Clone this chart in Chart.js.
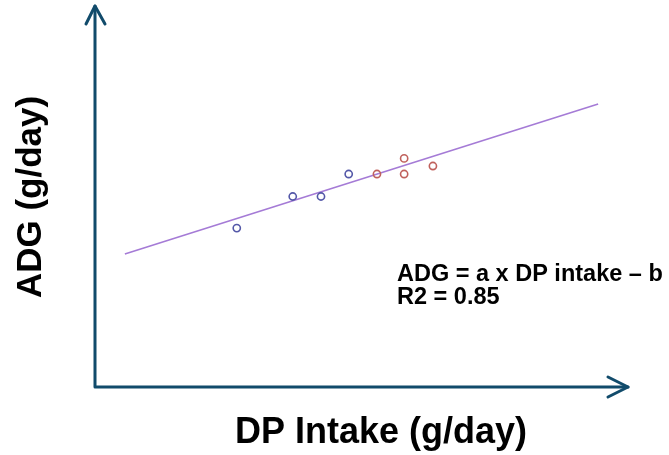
<!DOCTYPE html>
<html>
<head>
<meta charset="utf-8">
<script src="https://cdn.jsdelivr.net/npm/chart.js@4"></script>
<style>
  html, body { margin: 0; padding: 0; background: #fff; }
  #wrap { width: 669px; height: 455px; }
</style>
</head>
<body>
<div id="wrap"><canvas id="c"></canvas></div>
<script>
// values (arbitrary units, axes carry no ticks)
const blueX = [26.6, 37.1, 42.4, 47.6];
const blueY = [41.7, 50.0, 50.0, 55.9];
const redX  = [52.9, 58.0, 58.0, 63.4];
const redY  = [55.9, 60.0, 55.9, 58.0];
const fitX  = [5.6, 94.4];
const fitY  = [34.9, 74.3];

const xTitle = "DP Intake (g/day)";
const yTitle = "ADG (g/day)";
const eqLines = ["ADG = a x DP intake \u2013 b", "R2 = 0.85"];

const AXIS = "#114b6b";
const FONT = "'Liberation Sans', Arial, sans-serif";

const pts = (xs, ys) => xs.map((x, i) => ({ x, y: ys[i] }));

// axes with arrow heads, titles and the equation
const decor = {
  id: "decor",
  afterDraw(chart) {
    const { ctx, chartArea: a } = chart;
    ctx.save();
    ctx.strokeStyle = AXIS;
    ctx.lineWidth = 3;
    ctx.lineCap = "round";
    ctx.lineJoin = "round";
    ctx.beginPath();
    ctx.moveTo(a.left, a.top);
    ctx.lineTo(a.left, a.bottom);
    ctx.lineTo(a.right, a.bottom);
    ctx.stroke();
    // arrow heads
    ctx.beginPath();
    ctx.moveTo(a.left - 9, a.top + 18);
    ctx.lineTo(a.left, a.top);
    ctx.lineTo(a.left + 10, a.top + 18);
    ctx.moveTo(a.right - 20, a.bottom - 10);
    ctx.lineTo(a.right, a.bottom);
    ctx.lineTo(a.right - 20, a.bottom + 10);
    ctx.stroke();

    ctx.fillStyle = "#000";
    ctx.font = "bold 36px " + FONT;
    ctx.textAlign = "center";
    ctx.textBaseline = "alphabetic";
    ctx.fillText(xTitle, 381, 443);
    ctx.save();
    ctx.font = "bold 35px " + FONT;
    ctx.translate(41, 197);
    ctx.rotate(-Math.PI / 2);
    ctx.fillText(yTitle, 0, 0);
    ctx.restore();

    ctx.font = "bold 23.5px " + FONT;
    ctx.textAlign = "left";
    eqLines.forEach((t, i) => ctx.fillText(t, 397, 281 + i * 23));
    ctx.restore();
  }
};

new Chart(document.getElementById("c"), {
  type: "scatter",
  data: {
    datasets: [
      { data: pts(fitX, fitY), showLine: true, borderColor: "#a57bd6", borderWidth: 1.6, pointRadius: 0, order: 2 },
      { data: pts(blueX, blueY), borderColor: "#5458a8", backgroundColor: "transparent", borderWidth: 1.6, pointRadius: 3.6, order: 1 },
      { data: pts(redX, redY), borderColor: "#c0615c", backgroundColor: "transparent", borderWidth: 1.6, pointRadius: 3.6, order: 1 }
    ]
  },
  options: {
    responsive: true,
    maintainAspectRatio: false,
    animation: false,
    layout: { padding: { left: 95, right: 41, top: 6, bottom: 68 } },
    plugins: { legend: { display: false }, tooltip: { enabled: false } },
    scales: {
      x: { type: "linear", min: 0, max: 100, display: false },
      y: { type: "linear", min: 0, max: 100, display: false }
    }
  },
  plugins: [decor]
});
</script>
</body>
</html>
